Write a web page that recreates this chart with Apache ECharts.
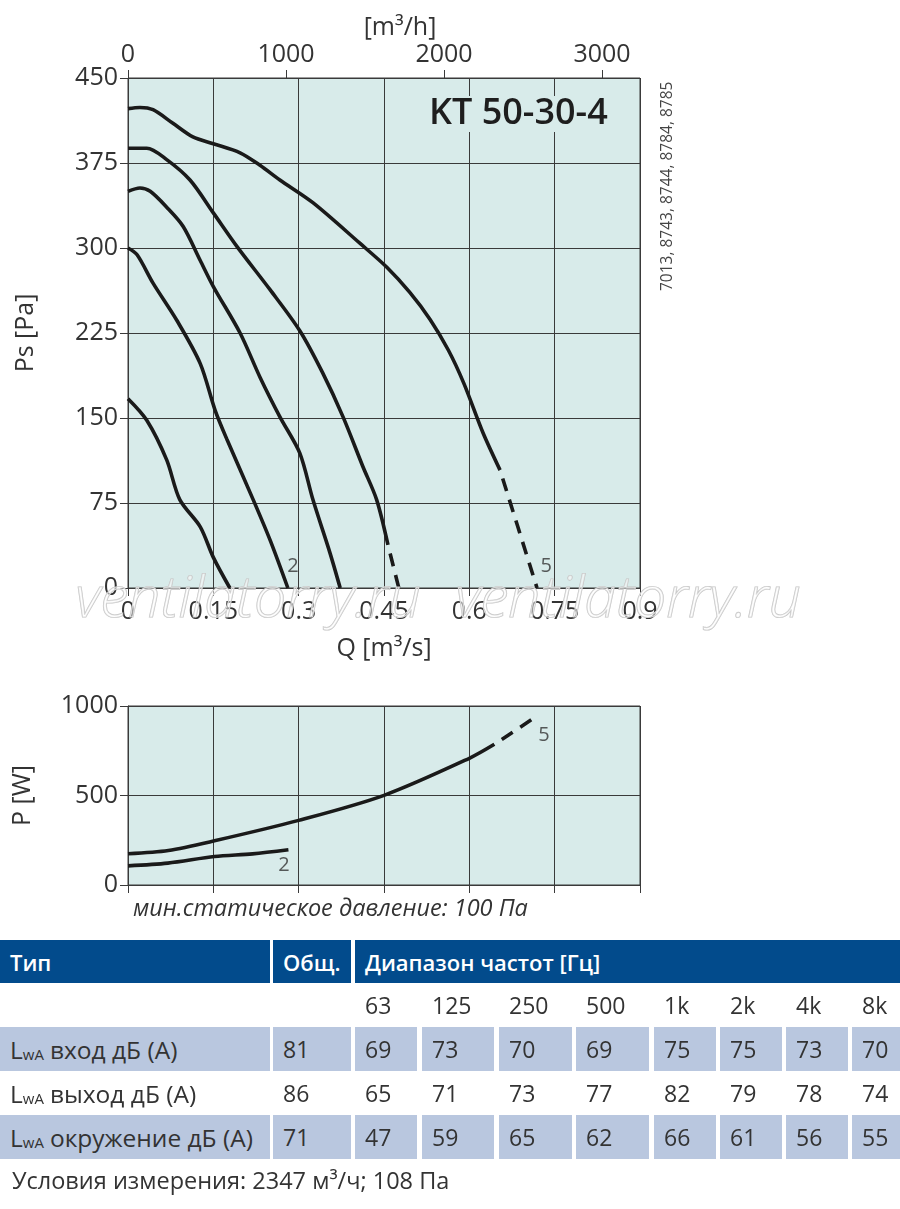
<!DOCTYPE html>
<html><head><meta charset="utf-8">
<script src="https://cdn.jsdelivr.net/npm/echarts@6/dist/echarts.min.js"></script>
<style>
html,body{margin:0;padding:0;background:#fff;}
#chart{position:absolute;left:0;top:0;width:900px;height:1209px;}
.cell{position:absolute;box-sizing:border-box;padding-left:10px;font-family:'Open Sans',sans-serif;font-size:23px;color:#333;display:flex;align-items:center;white-space:nowrap;}
.cell.nm{font-size:24.5px;}
.hdr{background:#024b8c;color:#fff;font-weight:600;font-size:22px;}
.fill{background:#b9c7df;}
.sub{font-size:15px;position:relative;top:5px;margin-right:6px;}
.foot{position:absolute;left:12px;top:1164px;font-family:'Open Sans',sans-serif;font-size:23.5px;color:#333;white-space:nowrap;}
</style></head><body>
<div id="chart"></div>
<div id="table"></div>
<script>
// ---- data: Ps [Pa] vs Q [m3/s]
const ps1 = [[0,167],[0.033,148],[0.068,113],[0.091,78],[0.127,54],[0.15,27],[0.179,0]];
const ps2 = [[0,300],[0.016,294],[0.044,269],[0.086,236],[0.127,198],[0.153,157],[0.174,131],[0.22,78],[0.25,42],[0.281,0]];
const ps3 = [[0,350],[0.021,353],[0.039,350],[0.068,336],[0.097,319],[0.127,289],[0.15,266],[0.197,225],[0.232,186],[0.267,151],[0.302,119],[0.325,78],[0.355,31],[0.373,0]];
const ps4 = [[0,388],[0.033,388],[0.068,378],[0.109,360],[0.15,331],[0.192,301],[0.25,263],[0.302,227],[0.342,190],[0.378,151],[0.413,107],[0.437,78],[0.457,38]];
const ps4Dash = [[0.457,38],[0.476,0]];
const ps5 = [[0,423],[0.021,424],[0.044,422],[0.079,410],[0.114,398],[0.15,392],[0.197,384],[0.232,373],[0.267,360],[0.325,340],[0.408,304],[0.455,283],[0.495,261],[0.531,237],[0.563,210],[0.59,181],[0.624,137],[0.654,104]];
const ps5Dash = [[0.654,104],[0.719,0]];
// ---- data: P [W] vs Q
const pw5 = [[0,175],[0.071,193],[0.152,247],[0.3,361],[0.45,501],[0.6,708],[0.644,786]];
const pw5Dash = [[0.644,786],[0.718,942]];
const pw2 = [[0,107],[0.07,122],[0.152,159],[0.219,174],[0.282,197]];
// curve labels
const psLabels = [{name:'2', value:[0.29,19]},{name:'5', value:[0.735,19]}];
const pwLabels = [{name:'5', value:[0.731,837]},{name:'2', value:[0.274,112]}];
// axis ticks (m3/h)
const qhTicks = [0,1000,2000,3000];
// table
const tableHeader = ['Тип','Общ.','Диапазон частот [Гц]'];
const freqBands = ['63','125','250','500','1k','2k','4k','8k'];
const rowNames = ['вход дБ (А)','выход дБ (А)','окружение дБ (А)'];
const totals = [81,86,71];
const lwaIn = [69,73,70,69,75,75,73,70];
const lwaOut = [65,71,73,77,82,79,78,74];
const lwaEnv = [47,59,65,62,66,61,56,55];

const FONT = "'Open Sans', sans-serif";
const TXT = '#333';
const BG = '#d8ebea';
const GL = '#3a3a3a';
const LW = 3.6;
const LC = '#1a1a1a';
const AFS = 25;

const chart = echarts.init(document.getElementById('chart'), null, {renderer:'canvas'});
const fmtQ = v => String(parseFloat(Number(v).toFixed(2)));
const fmtI = v => String(Math.round(v));
const lineS = (data, xi, yi, dashed) => ({
  type:'line', data, xAxisIndex:xi, yAxisIndex:yi, smooth:0.3, symbol:'none', silent:true,
  lineStyle:{color:LC, width:LW, type: dashed ? [13,9] : 'solid', dashOffset: dashed ? 13 : 0, cap:'butt'}
});
const lblS = (data, xi, yi) => ({
  type:'scatter', data, xAxisIndex:xi, yAxisIndex:yi, symbolSize:0, silent:true,
  label:{show:true, formatter:'{b}', position:'inside', fontFamily:FONT, fontSize:20, color:TXT}
});
const axisCommon = {
  axisLine:{show:true, lineStyle:{color:GL, width:1}},
  axisTick:{show:true, length:8, lineStyle:{color:GL, width:1}},
  splitLine:{show:true, lineStyle:{color:GL, width:1}},
  axisLabel:{fontFamily:FONT, fontSize:AFS, color:TXT}
};

chart.setOption({
  animation:false,
  grid:[
    {left:128, top:78, width:512, height:510, show:true, backgroundColor:BG, borderColor:GL, borderWidth:1},
    {left:128, top:706, width:512, height:179, show:true, backgroundColor:BG, borderColor:GL, borderWidth:1}
  ],
  xAxis:[
    Object.assign({}, axisCommon, {type:'value', gridIndex:0, min:0, max:0.9, interval:0.15, position:'bottom',
      axisLabel:Object.assign({}, axisCommon.axisLabel, {margin:11, formatter:fmtQ}),
      name:'Q [m³/s]', nameLocation:'middle', nameGap:48,
      nameTextStyle:{fontFamily:FONT, fontSize:AFS, color:TXT}}),
    {type:'value', gridIndex:0, min:0, max:3240, position:'top',
      axisLine:{show:false},
      axisTick:{show:true, length:8, customValues:qhTicks, lineStyle:{color:GL, width:1}},
      axisLabel:{fontFamily:FONT, fontSize:AFS, color:TXT, margin:11, customValues:qhTicks, formatter:fmtI},
      splitLine:{show:false},
      name:'[m³/h]', nameLocation:'middle', nameGap:38,
      nameTextStyle:{fontFamily:FONT, fontSize:AFS, color:TXT, padding:[0,0,0,32]}},
    Object.assign({}, axisCommon, {type:'value', gridIndex:1, min:0, max:0.9, interval:0.15, position:'bottom',
      axisLabel:{show:false}})
  ],
  yAxis:[
    Object.assign({}, axisCommon, {type:'value', gridIndex:0, min:0, max:450, interval:75,
      axisLabel:Object.assign({}, axisCommon.axisLabel, {margin:10, formatter:fmtI}),
      name:'Ps [Pa]', nameLocation:'middle', nameGap:90, nameRotate:90,
      nameTextStyle:{fontFamily:FONT, fontSize:AFS, color:TXT}}),
    Object.assign({}, axisCommon, {type:'value', gridIndex:1, min:0, max:1000, interval:500,
      axisLabel:Object.assign({}, axisCommon.axisLabel, {margin:10, formatter:fmtI}),
      name:'P [W]', nameLocation:'middle', nameGap:93, nameRotate:90,
      nameTextStyle:{fontFamily:FONT, fontSize:AFS, color:TXT}})
  ],
  graphic:[
    {type:'text', left:426, top:96, z:10, style:{text:'KT 50-30-4', font:"600 36px 'Open Sans', sans-serif", fill:'#1e1e1e', backgroundColor:BG, padding:[0,3]}},
    {type:'text', x:668, y:291, rotation:Math.PI/2, z:10, style:{text:'7013, 8743, 8744, 8784, 8785', font:"15.5px 'Open Sans', sans-serif", fill:'#444', textAlign:'left', textVerticalAlign:'middle'}},
    {type:'text', left:133, top:898, z:10, style:{text:'мин.статическое давление: 100 Па', font:"italic 23.5px 'Open Sans', sans-serif", fill:TXT}},
    {type:'text', left:75, top:572, z:20, style:{text:'ventilatorry.ru', font:"italic 300 57px 'Open Sans', sans-serif", fill:'rgba(255,255,255,0.5)', stroke:'#c4c4c4', lineWidth:1.2}},
    {type:'text', left:455, top:572, z:20, style:{text:'ventilatorry.ru', font:"italic 300 57px 'Open Sans', sans-serif", fill:'rgba(255,255,255,0.5)', stroke:'#c4c4c4', lineWidth:1.2}}
  ],
  series:[
    lineS(ps1,0,0,false), lineS(ps2,0,0,false), lineS(ps3,0,0,false),
    lineS(ps4,0,0,false), lineS(ps4Dash,0,0,true),
    lineS(ps5,0,0,false), lineS(ps5Dash,0,0,true),
    lineS(pw5,2,1,false), lineS(pw5Dash,2,1,true), lineS(pw2,2,1,false),
    lblS(psLabels,0,0), lblS(pwLabels,2,1)
  ]
});

// ---- table (HTML)
const cols = [[0,270],[273,351],[355,417],[422,494],[499,572],[576,649],[654,716],[720,782],[786,848],[852,900]];
const rowsY = [[940,983],[983,1027],[1027,1071],[1071,1115],[1115,1159]];
const tbl = document.getElementById('table');
function cell(x0,x1,y0,y1,html,cls){
  const d = document.createElement('div');
  d.className = 'cell ' + (cls||'');
  d.style.left = x0+'px'; d.style.width = (x1-x0)+'px';
  d.style.top = y0+'px'; d.style.height = (y1-y0)+'px';
  d.innerHTML = html; tbl.appendChild(d);
}
cell(cols[0][0], cols[0][1], rowsY[0][0], rowsY[0][1], tableHeader[0], 'hdr');
cell(cols[1][0], cols[1][1], rowsY[0][0], rowsY[0][1], tableHeader[1], 'hdr');
cell(cols[2][0], cols[9][1], rowsY[0][0], rowsY[0][1], tableHeader[2], 'hdr');
freqBands.forEach((f,i)=>cell(cols[i+2][0], cols[i+2][1], rowsY[1][0], rowsY[1][1], f, ''));
const bands = [lwaIn, lwaOut, lwaEnv];
rowNames.forEach((nm,r)=>{
  const y = rowsY[r+2]; const cls = (r%2===0) ? 'fill' : '';
  cell(cols[0][0], cols[0][1], y[0], y[1], 'L<span class="sub">wA</span>'+nm, cls+' nm');
  cell(cols[1][0], cols[1][1], y[0], y[1], String(totals[r]), cls);
  bands[r].forEach((v,i)=>cell(cols[i+2][0], cols[i+2][1], y[0], y[1], String(v), cls));
});
const ft = document.createElement('div'); ft.className='foot';
ft.innerHTML = 'Условия измерения: 2347 м³/ч; 108 Па';
document.body.appendChild(ft);
</script>
</body></html>
